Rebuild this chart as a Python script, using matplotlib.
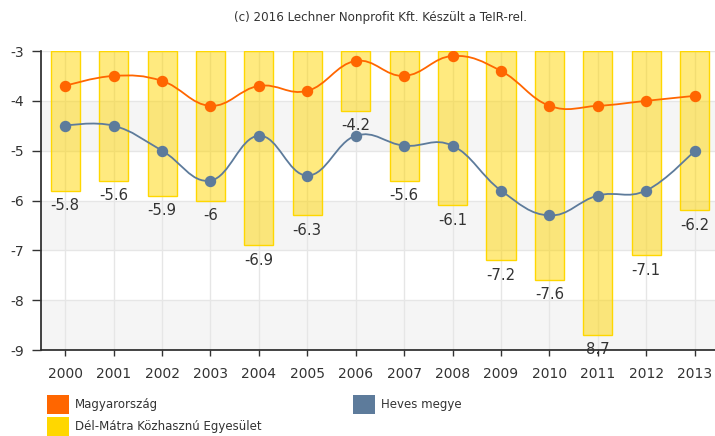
import numpy as np
import matplotlib
matplotlib.use("Agg")
import matplotlib.pyplot as plt
from matplotlib.path import Path
from matplotlib.patches import PathPatch, Rectangle

years = ["2000", "2001", "2002", "2003", "2004", "2005", "2006",
         "2007", "2008", "2009", "2010", "2011", "2012", "2013"]
magyarorszag = [-3.7, -3.5, -3.6, -4.1, -3.7, -3.8, -3.2, -3.5, -3.1, -3.4, -4.1, -4.1, -4.0, -3.9]
heves = [-4.5, -4.5, -5.0, -5.6, -4.7, -5.5, -4.7, -4.9, -4.9, -5.8, -6.3, -5.9, -5.8, -5.0]
del_matra = [-5.8, -5.6, -5.9, -6.0, -6.9, -6.3, -4.2, -5.6, -6.1, -7.2, -7.6, -8.7, -7.1, -6.2]
bar_labels = ["-5.8", "-5.6", "-5.9", "-6", "-6.9", "-6.3", "-4.2", "-5.6", "-6.1",
              "-7.2", "-7.6", "8.7", "-7.1", "-6.2"]
yticks = [-3, -4, -5, -6, -7, -8, -9]

C_HU = "#FF6600"
C_HEV = "#5D7B9B"
C_BAR = "#FFD700"

W, H = 715, 436
fig = plt.figure(figsize=(W / 100, H / 100), dpi=100)
ax_left, ax_right = 41 / W, 1.0
ax_top, ax_bot = 1 - 51 / H, 1 - 350 / H
ax = fig.add_axes([ax_left, ax_bot, ax_right - ax_left, ax_top - ax_bot])

x = np.arange(len(years))
ax.set_xlim(-0.5, 13.42)
ax.set_ylim(-9, -3)

# alternating bands
for lo in (-5, -7, -9):
    ax.axhspan(lo, lo + 1, color="#F5F5F5", zorder=0, lw=0)
for yv in yticks:
    ax.axhline(yv, color="#E6E6E6", lw=1, zorder=0.5)
for xi in x:
    ax.axvline(xi, color="#E6E6E6", lw=1, zorder=0.5)

# bars hanging from the top (-3)
base = -3
heights = [v - base for v in del_matra]
ax.bar(x, heights, bottom=base, width=0.6, facecolor=(1.0, 0.84, 0.0, 0.5),
       edgecolor=C_BAR, linewidth=1, zorder=2)
for xi, v, lab in zip(x, del_matra, bar_labels):
    ax.annotate(lab, (xi, v), xytext=(0, -10.6), textcoords="offset points",
                ha="center", va="center", fontsize=10.7, color="#333333", zorder=5)


def spline_path(xs, ys, smoothing=1.5):
    denom = smoothing + 1
    n = len(xs)
    lc = [None] * n
    rc = [None] * n
    for i in range(n):
        if i == 0 or i == n - 1:
            lc[i] = (xs[i], ys[i])
            rc[i] = (xs[i], ys[i])
            continue
        px, py = xs[i], ys[i]
        lx, ly = xs[i - 1], ys[i - 1]
        nx, ny = xs[i + 1], ys[i + 1]
        lcx = (smoothing * px + lx) / denom
        lcy = (smoothing * py + ly) / denom
        rcx = (smoothing * px + nx) / denom
        rcy = (smoothing * py + ny) / denom
        if rcx != lcx:
            corr = ((rcy - lcy) * (rcx - px)) / (rcx - lcx) + py - rcy
            lcy += corr
            rcy += corr
        lc[i] = (lcx, lcy)
        rc[i] = (rcx, rcy)
    verts = [(xs[0], ys[0])]
    codes = [Path.MOVETO]
    for i in range(1, n):
        verts += [rc[i - 1], lc[i], (xs[i], ys[i])]
        codes += [Path.CURVE4] * 3
    return Path(verts, codes)


for data, col in ((magyarorszag, C_HU), (heves, C_HEV)):
    p = spline_path(list(x.astype(float)), data)
    ax.add_patch(PathPatch(p, facecolor="none", edgecolor=col, lw=1.3, zorder=3))
    ax.plot(x, data, ls="none", marker="o", ms=7.2, color=col, zorder=4)

ax.set_xticks(x)
ax.set_xticklabels(years)
ax.set_yticks(yticks)
ax.set_yticklabels([str(v) for v in yticks])
ax.tick_params(axis="x", length=4, width=1, color="#333333", labelsize=10,
               labelcolor="#333333", pad=8.5)
ax.tick_params(axis="y", length=6.5, width=1, color="#333333", labelsize=10,
               labelcolor="#333333", pad=5.5)
for s in ("top", "right"):
    ax.spines[s].set_visible(False)
for s in ("left", "bottom"):
    ax.spines[s].set_color("#222222")
    ax.spines[s].set_linewidth(1.2)
ax.set_axisbelow(False)

fig.text(381 / W, 1 - 17 / H, "(c) 2016 Lechner Nonprofit Kft. Készült a TeIR-rel.",
         ha="center", va="center", fontsize=8.6, color="#333333")

# legend
def legend_item(px, py, color, label):
    fig.patches.append(Rectangle((px / W, 1 - (py + 9.5) / H), 22 / W, 19 / H,
                                 transform=fig.transFigure, facecolor=color,
                                 edgecolor="none"))
    fig.text((px + 28) / W, 1 - py / H, label, ha="left", va="center",
             fontsize=8.5, color="#333333")

legend_item(47, 404.5, C_HU, "Magyarország")
legend_item(353, 404.5, C_HEV, "Heves megye")
legend_item(47, 426.5, C_BAR, "Dél-Mátra Közhasznú Egyesület")

fig.savefig("out.png", dpi=100)
